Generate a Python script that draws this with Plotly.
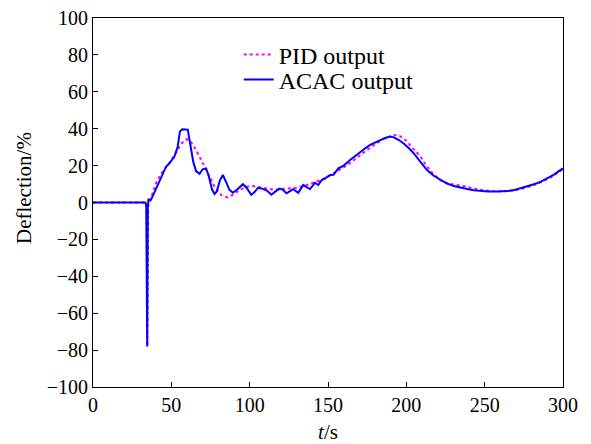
import plotly.graph_objects as go

# ACAC output (solid blue)
acac_t = [0, 33.5, 34.0, 34.6, 35.0, 35.4, 36, 37, 40, 42, 44, 46.6, 49, 51.9, 54, 55.5, 57, 59,
          60.5, 62, 64, 65.8, 68, 70, 72.2, 74, 76, 77.6, 79, 81, 82.9, 85, 87, 89.3, 92, 95.7,
          98, 101, 103, 105.3, 108, 111, 113.9, 116.5, 119.2, 121, 123.5, 125.5, 127.8, 131,
          134.2, 136, 138.5, 141.7, 143.8, 146, 148, 151.3, 153.5, 156.6, 160, 164.1, 167,
          170.5, 174, 176.9, 180, 183.3, 186.5, 189.7, 192, 195, 198.3, 201.5, 204.7, 209,
          213.2, 217.5, 221.8, 226, 230.3, 234.5, 238.9, 243, 247.4, 252, 258, 264.5, 269,
          273, 278, 282, 285.9, 290, 294, 298.7, 300]
acac_y = [0, 0, -2, -78, -3, 2, 1, 1.5, 7, 10.5, 14, 19.4, 21.5, 24.8, 30, 38.5, 39.7, 39.7,
          39.5, 32, 22, 17, 15.5, 18, 18.5, 14, 7, 4.6, 6, 12, 14.9, 11, 7, 5.3, 7, 9.9,
          8, 4.2, 5.5, 8.0, 7.5, 6.5, 4.2, 6, 7.5, 7, 5, 6, 7.2, 5.3,
          9.5, 8.5, 7.3, 10.7, 9.5, 12.2, 13, 14.9, 15, 18.5, 20, 23, 25,
          27.5, 29.5, 31.2, 32.5, 33.9, 35, 35.8, 35.3, 34, 32, 29.5, 26.7, 22,
          17.6, 14.5, 12.2, 10.3, 8.9, 8, 7.3, 6.7, 6.2, 6, 6, 6.2, 6.8,
          7.7, 8.8, 10, 11.3, 13, 15, 17.8, 18.5]

# PID output (dotted magenta)
pid_t = [0, 14, 18, 22, 33.5, 34.2, 34.7, 35.2, 36, 38, 40.2, 43, 46.6, 50, 53, 56, 59.4, 62,
         65.8, 70, 74.4, 78, 81.9, 86.1, 90, 93.6, 98, 102, 106, 110.9, 115, 120, 125, 130,
         135, 140, 145, 150, 155, 160, 165, 170, 175, 180, 185, 190, 192.9, 196, 200, 204,
         209, 212, 216, 221.8, 226, 230, 236.8, 242, 248, 255, 262, 268, 273, 280, 286,
         292, 298, 300]
pid_y = [0, 0, 0.4, 0, 0, -2, -78, -2, 0, 5, 10.4, 15, 19, 23, 27, 31.5, 34.3, 33.5,
         28.5, 21, 14, 8, 4, 2.8, 4.5, 6.8, 8.5, 8.9, 8.3, 7.6, 7, 7.3, 7.5, 8,
         9, 10.5, 12, 14, 16.5, 19, 22, 25.5, 28.5, 31.5, 34.2, 36, 36.6, 36, 33.5, 29.5,
         25, 21, 16.5, 12, 10.5, 9.8, 8.9, 7.8, 6.8, 6.2, 6, 6.5, 7.3, 9, 11,
         13.5, 17, 18]

x_ticks = [0, 50, 100, 150, 200, 250, 300]
y_ticks = [-100, -80, -60, -40, -20, 0, 20, 40, 60, 80, 100]

font_family = "Liberation Serif, Times New Roman, serif"

fig = go.Figure()
fig.add_trace(go.Scatter(x=pid_t, y=pid_y, mode='lines', name='PID output', legend='legend',
                         line=dict(color='#FF00FF', width=2, dash='dot')))
fig.add_trace(go.Scatter(x=acac_t, y=acac_y, mode='lines', name='ACAC output', legend='legend2',
                         line=dict(color='#0000FF', width=2)))

axis_style = dict(showgrid=False, zeroline=False, showline=True, linecolor='black',
                  linewidth=1, mirror=True, ticks='inside', ticklen=5, tickcolor='black',
                  ticklabeloverflow='allow', automargin=False,
                  tickfont=dict(size=20, color='black', family=font_family))

legend_style = dict(xanchor='left', yanchor='middle', bgcolor='rgba(0,0,0,0)',
                    font=dict(size=24, family=font_family, color='black'))

fig.update_layout(
    width=591, height=444,
    margin=dict(l=85, r=36, t=10, b=65, autoexpand=False),
    paper_bgcolor='white', plot_bgcolor='white',
    font=dict(family=font_family, color='black', size=20),
    showlegend=True,
    legend=dict(x=0.31, y=0.90, **legend_style),
    legend2=dict(x=0.31, y=0.832, **legend_style),
    xaxis=dict(range=[0, 300], tickvals=x_ticks,
               title=dict(text='<i>t</i>/s', font=dict(size=21), standoff=9), **axis_style),
    yaxis=dict(range=[-100, 100], tickvals=y_ticks, **axis_style),
    annotations=[dict(text='Deflection/%', textangle=-90, xref='paper', yref='paper',
                      x=-0.147, y=0.539, xanchor='center', yanchor='middle',
                      showarrow=False, font=dict(size=21))],
)

fig.write_html("out.html")
